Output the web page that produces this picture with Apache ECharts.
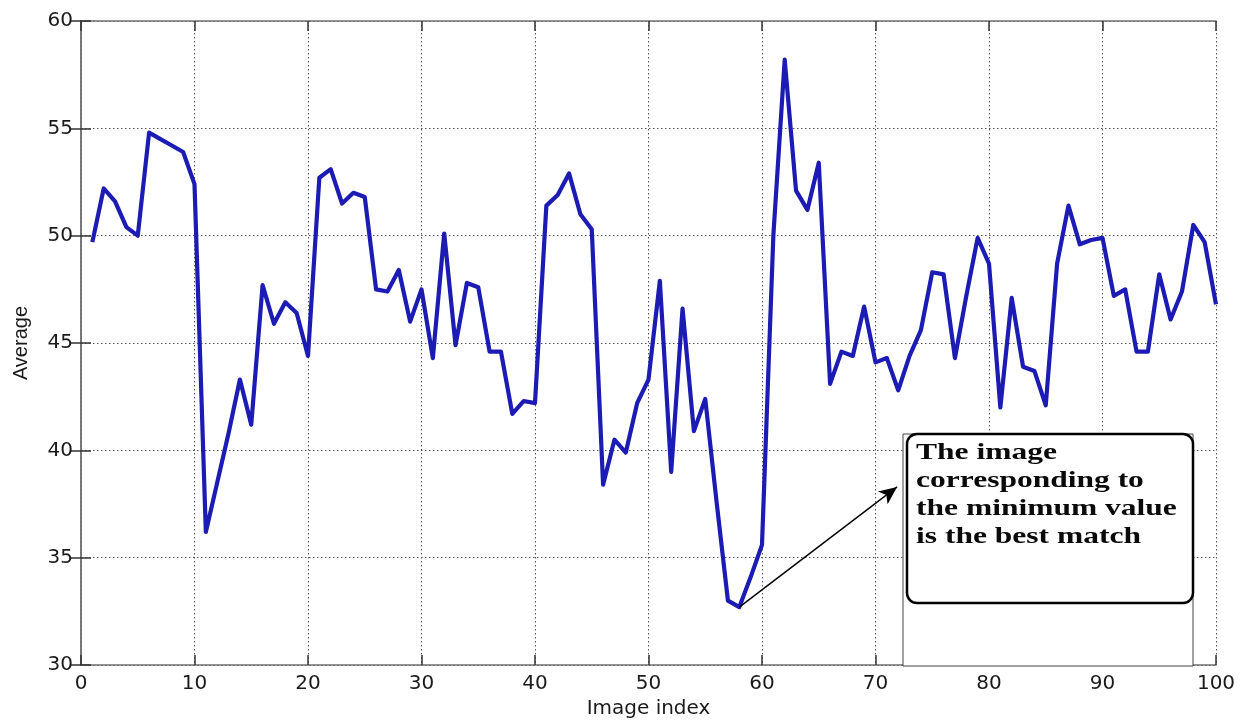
<!DOCTYPE html>
<html>
<head>
<meta charset="utf-8">
<script src="https://cdn.jsdelivr.net/npm/echarts@6/dist/echarts.min.js"></script>
<style>
html,body{margin:0;padding:0;background:#fff;}
#chart{width:1244px;height:724px;}
</style>
</head>
<body>
<div id="chart"></div>
<script>
// ---- data ----
const imageIndex = [];
for (let i = 1; i <= 100; i++) imageIndex.push(i);
const averageValues = [
  49.7, 52.2, 51.6, 50.4, 50.0, 54.8, 54.5, 54.2, 53.9, 52.4,
  36.2, 38.5, 40.8, 43.3, 41.2, 47.7, 45.9, 46.9, 46.4, 44.4,
  52.7, 53.1, 51.5, 52.0, 51.8, 47.5, 47.4, 48.4, 46.0, 47.5,
  44.3, 50.1, 44.9, 47.8, 47.6, 44.6, 44.6, 41.7, 42.3, 42.2,
  51.4, 51.9, 52.9, 51.0, 50.3, 38.4, 40.5, 39.9, 42.2, 43.3,
  47.9, 39.0, 46.6, 40.9, 42.4, 37.6, 33.0, 32.7, 34.1, 35.6,
  50.0, 58.2, 52.1, 51.2, 53.4, 43.1, 44.6, 44.4, 46.7, 44.1,
  44.3, 42.8, 44.4, 45.6, 48.3, 48.2, 44.3, 47.2, 49.9, 48.7,
  42.0, 47.1, 43.9, 43.7, 42.1, 48.7, 51.4, 49.6, 49.8, 49.9,
  47.2, 47.5, 44.6, 44.6, 48.2, 46.1, 47.4, 50.5, 49.7, 46.8
];
const xTicks = [0, 10, 20, 30, 40, 50, 60, 70, 80, 90, 100];
const yTicks = [30, 35, 40, 45, 50, 55, 60];
const arrowFrom = [58, 32.7];
const arrowTo = [71.9, 38.3];
const annotationLines = ['The image', 'corresponding to', 'the minimum value', 'is the best match'];
const xName = 'Image index';
const yName = 'Average';

const seriesData = imageIndex.map((x, i) => [x, averageValues[i]]);

const chart = echarts.init(document.getElementById('chart'), null, {renderer: 'canvas'});

const axisLineStyle = {color: '#707070', width: 1.5};
const tickStyle = {color: '#333', width: 1.5};
const gridStyle = {color: '#555', width: 1, type: [1.5, 2.5]};
const labelFont = {color: '#1a1a1a', fontSize: 20, fontFamily: 'DejaVu Sans'};

const option = {
  animation: false,
  backgroundColor: '#fff',
  grid: {left: 81, right: 28, top: 21, bottom: 51, containLabel: false},
  xAxis: [{
    type: 'value', min: xTicks[0], max: xTicks[xTicks.length - 1], interval: 10,
    position: 'bottom',
    name: xName, nameLocation: 'middle', nameGap: 33,
    nameTextStyle: {color: '#1a1a1a', fontSize: 20, fontFamily: 'DejaVu Sans'},
    axisLine: {show: true, lineStyle: axisLineStyle},
    axisTick: {show: true, inside: true, length: 10, lineStyle: tickStyle},
    axisLabel: Object.assign({margin: 9}, labelFont),
    splitLine: {show: true, lineStyle: gridStyle}
  }, {
    type: 'value', min: xTicks[0], max: xTicks[xTicks.length - 1], interval: 10,
    position: 'top',
    axisLine: {show: true, lineStyle: axisLineStyle},
    axisTick: {show: true, inside: true, length: 10, lineStyle: tickStyle},
    axisLabel: {show: false},
    splitLine: {show: false}
  }],
  yAxis: [{
    type: 'value', min: yTicks[0], max: yTicks[yTicks.length - 1], interval: 5,
    position: 'left',
    name: yName, nameLocation: 'middle', nameGap: 50, nameRotate: 90,
    nameTextStyle: {color: '#1a1a1a', fontSize: 20, fontFamily: 'Liberation Sans'},
    axisLine: {show: true, lineStyle: axisLineStyle},
    axisTick: {show: true, inside: true, length: 10, lineStyle: tickStyle},
    axisLabel: Object.assign({margin: 8}, labelFont),
    splitLine: {show: true, lineStyle: gridStyle}
  }, {
    type: 'value', min: yTicks[0], max: yTicks[yTicks.length - 1], interval: 5,
    position: 'right',
    axisLine: {show: true, lineStyle: axisLineStyle},
    axisTick: {show: true, inside: true, length: 10, lineStyle: tickStyle},
    axisLabel: {show: false},
    splitLine: {show: false}
  }],
  series: [{
    type: 'line',
    xAxisIndex: 0, yAxisIndex: 0,
    data: seriesData,
    showSymbol: false,
    symbol: 'none',
    lineStyle: {color: '#1c1cb4', width: 4.2, join: 'round'},
    z: 3,
    markLine: {
      silent: true,
      symbol: ['none', 'arrow'],
      symbolSize: [12, 18],
      label: {show: false},
      lineStyle: {color: '#000', width: 1.4, type: 'solid'},
      data: [[{coord: arrowFrom}, {coord: arrowTo}]]
    }
  }],
  graphic: [
    {
      type: 'rect', z: 10,
      shape: {x: 903, y: 434, width: 290, height: 232},
      style: {fill: '#fff', stroke: '#444', lineWidth: 1}
    },
    {
      type: 'rect', z: 11,
      shape: {x: 907, y: 434, width: 286, height: 169, r: 10},
      style: {fill: '#fff', stroke: '#000', lineWidth: 2.5}
    },
    {
      type: 'text', z: 12,
      x: 916, y: 439, scaleX: 1.37,
      style: {
        text: annotationLines.join('\n'),
        fill: '#0a0a0a',
        font: 'bold 23px "Liberation Serif"',
        lineHeight: 28,
        verticalAlign: 'top',
        align: 'left'
      }
    }
  ]
};
chart.setOption(option);
</script>
</body>
</html>
